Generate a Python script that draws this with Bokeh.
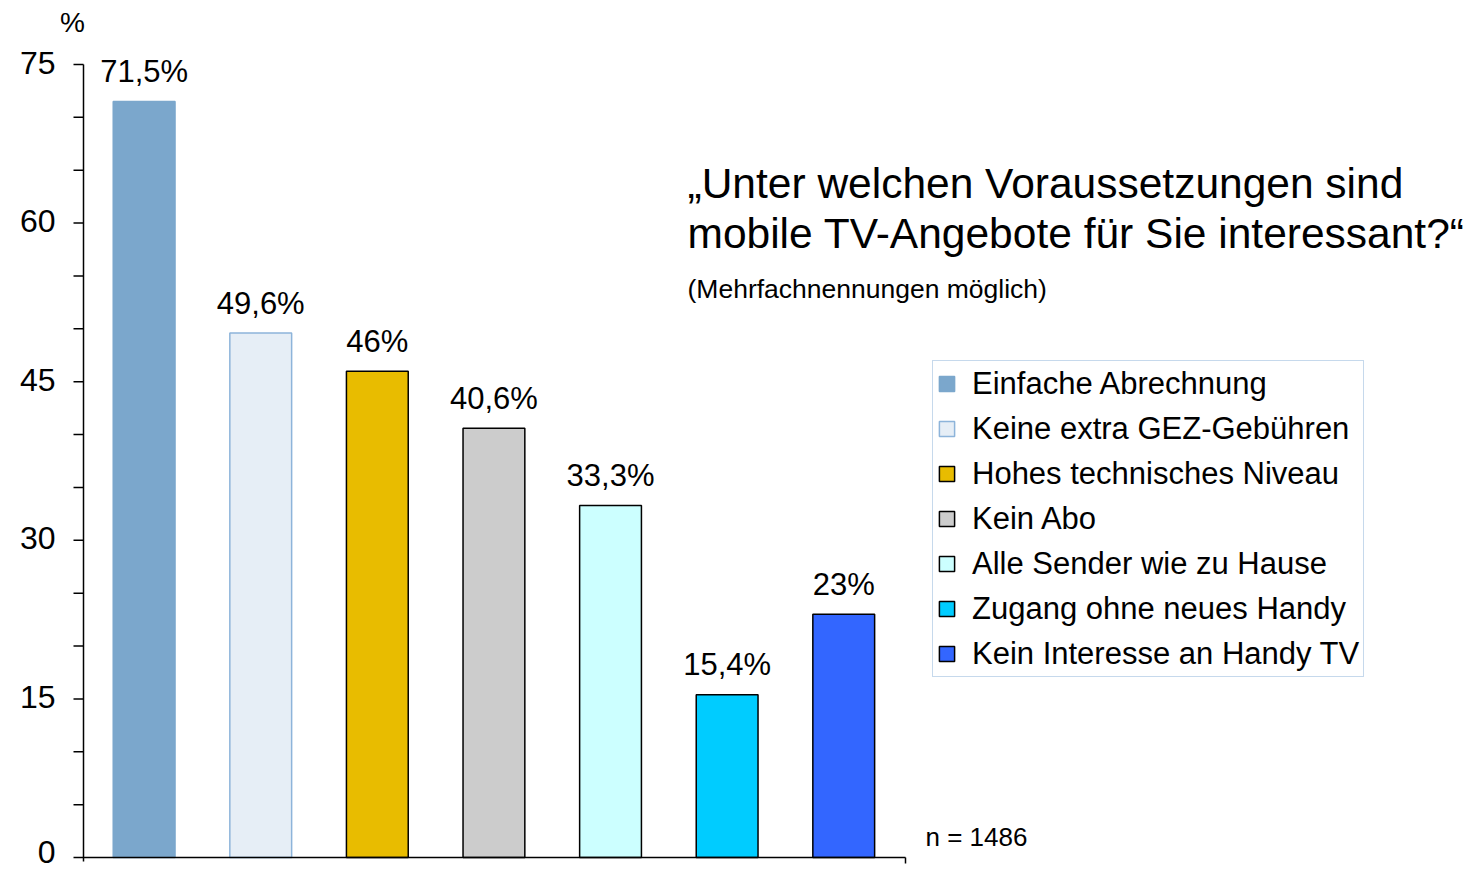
from bokeh.plotting import figure
from bokeh.models import Label, Legend, LegendItem, Range1d
from bokeh.core.properties import value
from bokeh.embed import file_html
from bokeh.resources import INLINE

# ---- data ----
categories = [
    "Einfache Abrechnung",
    "Keine extra GEZ-Gebühren",
    "Hohes technisches Niveau",
    "Kein Abo",
    "Alle Sender wie zu Hause",
    "Zugang ohne neues Handy",
    "Kein Interesse an Handy TV",
]
values = [71.5, 49.6, 46.0, 40.6, 33.3, 15.4, 23.0]
value_labels = ["71,5%", "49,6%", "46%", "40,6%", "33,3%", "15,4%", "23%"]
fill_colors = ["#7BA7CC", "#E6EEF6", "#E8BC00", "#CCCCCC", "#CCFFFF", "#00CCFF", "#3366FF"]
line_colors = ["#7BA7CC", "#8DB4DA", "#000000", "#000000", "#000000", "#000000", "#000000"]
y_ticks = [0, 15, 30, 45, 60, 75]
y_tick_labels = ["0", "15", "30", "45", "60", "75"]
y_minor_ticks = [5, 10, 20, 25, 35, 40, 50, 55, 65, 70]
y_max = 75
title_lines = ["\u201eUnter welchen Voraussetzungen sind",
               "mobile TV-Angebote f\u00fcr Sie interessant?\u201c"]
subtitle = "(Mehrfachnennungen m\u00f6glich)"
sample_note = "n = 1486"
unit_label = "%"

FONT = "Liberation Sans"

# ---- layout constants (pixels on the page, origin top-left) ----
W, H = 1470, 869
AXIS_PX = 83            # x of the y-axis
ZERO_PX = 857           # y of value 0
TOP_PX = 64             # y of value 75
PX_PER_X = 116.6
PX_PER_Y = (ZERO_PX - TOP_PX) / y_max
AXIS_X = -0.52          # data x of the y-axis
X_START = AXIS_X - AXIS_PX / PX_PER_X
X_END = X_START + W / PX_PER_X
Y_START = -(H - ZERO_PX) / PX_PER_Y
Y_END = ZERO_PX / PX_PER_Y


def dx(px):
    return X_START + px / PX_PER_X


def dy(py):
    return (ZERO_PX - py) / PX_PER_Y


AXIS_END_X = dx(905)

p = figure(width=W, height=H, output_backend="svg", toolbar_location=None,
           x_range=Range1d(X_START, X_END), y_range=Range1d(Y_START, Y_END),
           x_axis_location=None, y_axis_location=None,
           min_border_left=0, min_border_right=0,
           min_border_top=0, min_border_bottom=0)
p.outline_line_color = None
p.xgrid.visible = False
p.ygrid.visible = False
p.background_fill_color = "white"
p.border_fill_color = "white"

# bars
xs = list(range(len(values)))
renderers = []
for i, v in enumerate(values):
    r = p.vbar(x=[xs[i]], top=[v], bottom=0, width=0.53,
               fill_color=fill_colors[i], line_color=line_colors[i], line_width=1.5)
    renderers.append(r)

# y axis: line, major + minor ticks, tick labels
all_ticks = y_ticks + y_minor_ticks
p.segment(x0=[AXIS_X], y0=[dy(861)], x1=[AXIS_X], y1=[y_max], line_color="black", line_width=1.5)
p.segment(x0=[dx(73)] * len(all_ticks), y0=all_ticks, x1=[AXIS_X] * len(all_ticks), y1=all_ticks,
          line_color="black", line_width=1.5)
tick_label_offsets = [-6 if t == 0 else -2 for t in y_ticks]  # keep the bottom label inside the page
p.text(x=[dx(55)] * len(y_ticks), y=y_ticks, text=y_tick_labels, y_offset=tick_label_offsets,
       text_align="right", text_baseline="middle", text_font=value(FONT),
       text_font_size="32px", text_color="black")

# x axis line with end tick
p.segment(x0=[AXIS_X], y0=[0], x1=[AXIS_END_X], y1=[0], line_color="black", line_width=1.5)
p.segment(x0=[AXIS_END_X], y0=[0], x1=[AXIS_END_X], y1=[dy(863)], line_color="black", line_width=1.5)

# value labels
p.text(x=xs, y=values, text=value_labels, text_align="center", text_baseline="middle",
       y_offset=-30, text_font=value(FONT), text_font_size="31px", text_color="black")


def add_text(px, py, txt, size, align="left"):
    p.add_layout(Label(x=dx(px), y=dy(py), text=txt, text_align=align, text_baseline="middle",
                       text_font=FONT, text_font_size=size, text_color="black"))


add_text(72, 22, unit_label, "28px", "center")
add_text(687, 183, title_lines[0], "42.5px")
add_text(687, 233, title_lines[1], "42.5px")
add_text(687, 288, subtitle, "26.5px")
add_text(925, 836, sample_note, "26px")

# legend
legend = Legend(items=[LegendItem(label=c, renderers=[r]) for c, r in zip(categories, renderers)],
                location=(932, H - 677))
legend.border_line_color = "#8DB4DA"
legend.border_line_width = 1.5
legend.background_fill_color = "white"
legend.background_fill_alpha = 1.0
legend.label_text_font = FONT
legend.label_text_font_size = "31px"
legend.label_text_color = "black"
legend.glyph_width = 19
legend.glyph_height = 19
legend.label_height = 37
legend.spacing = 8
legend.padding = 4
legend.margin = 0
legend.label_standoff = 16
p.add_layout(legend)

open("out.html", "w").write(file_html(p, INLINE))
